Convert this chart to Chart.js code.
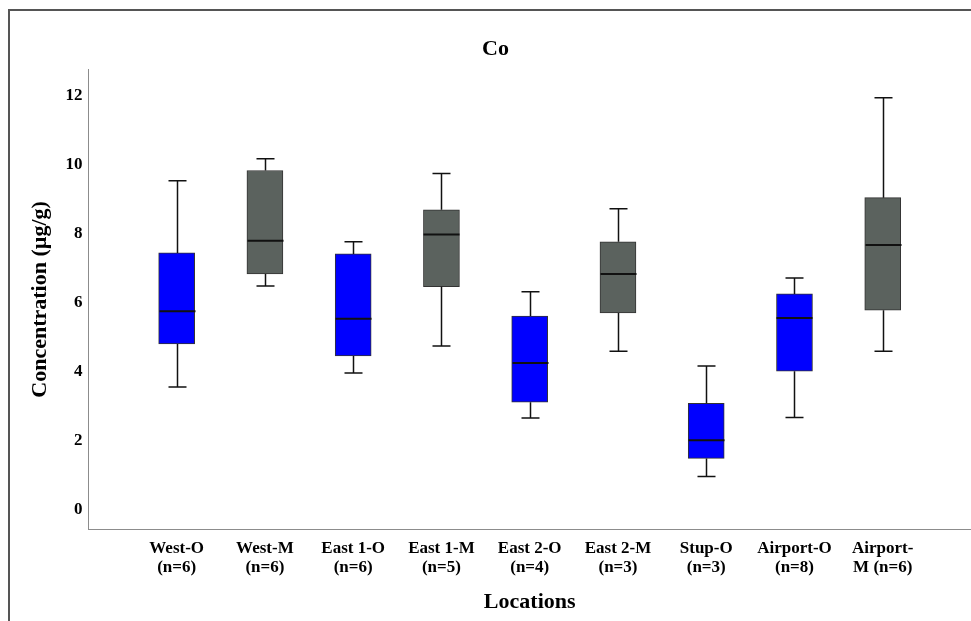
<!DOCTYPE html>
<html>
<head>
<meta charset="utf-8">
<script src="https://cdn.jsdelivr.net/npm/chart.js@4/dist/chart.umd.min.js"></script>
<style>
  html, body { margin: 0; padding: 0; background: #fff; overflow: hidden; }
  #wrap { position: relative; width: 971px; height: 621px; }
  #frame { position: absolute; left: 8px; top: 9px; right: -10px; bottom: -10px; border: 2px solid #555; pointer-events: none; }
</style>
</head>
<body>
<div id="wrap">
  <canvas id="boxChart" width="971" height="621"></canvas>
  <div id="frame"></div>
</div>
<script>
// box plot data
const locations = [['West-O', '(n=6)'], ['West-M', '(n=6)'], ['East 1-O', '(n=6)'], ['East 1-M', '(n=5)'],
  ['East 2-O', '(n=4)'], ['East 2-M', '(n=3)'], ['Stup-O', '(n=3)'], ['Airport-O', '(n=8)'], ['Airport-', 'M (n=6)']];
const groupType   = ['O', 'M', 'O', 'M', 'O', 'M', 'O', 'O', 'M'];
const whiskerLow  = [3.49, 6.42, 3.90, 4.68, 2.59, 4.53, 0.90, 2.61, 4.53];
const quart1      = [4.74, 6.77, 4.39, 6.40, 3.05, 5.64, 1.42, 3.95, 5.72];
const medians     = [5.69, 7.73, 5.47, 7.91, 4.19, 6.77, 1.95, 5.49, 7.61];
const quart3      = [7.38, 9.77, 7.35, 8.63, 5.55, 7.70, 3.02, 6.19, 8.98];
const whiskerHigh = [9.47, 10.11, 7.70, 9.68, 6.25, 8.66, 4.10, 6.65, 11.88];
const yTicks = [0, 2, 4, 6, 8, 10, 12];

const blueBox = '#0000ff';
const greyBox = '#5b625e';
const boxColors = groupType.map(g => g === 'M' ? greyBox : blueBox);

const serif = "'Liberation Serif', 'Times New Roman', serif";

//whiskers, caps and medians drawn on top of the floating bars
const whiskerPlugin = {
  id: 'whiskers',
  afterDatasetsDraw(chart) {
    const ctx = chart.ctx;
    const xs = chart.scales.x, ys = chart.scales.y;
    const half = 18, cap = 9;
    ctx.save();
    ctx.strokeStyle = '#111';
    medians.forEach((m, i) => {
      const x = Math.round(xs.getPixelForValue(i + 1)) + 0.5;
      ctx.lineWidth = 1.5;
      ctx.beginPath();
      ctx.moveTo(x, ys.getPixelForValue(quart3[i]));
      ctx.lineTo(x, ys.getPixelForValue(whiskerHigh[i]));
      ctx.moveTo(x, ys.getPixelForValue(quart1[i]));
      ctx.lineTo(x, ys.getPixelForValue(whiskerLow[i]));
      ctx.stroke();
      ctx.beginPath();
      ctx.moveTo(x - cap, ys.getPixelForValue(whiskerHigh[i]));
      ctx.lineTo(x + cap, ys.getPixelForValue(whiskerHigh[i]));
      ctx.moveTo(x - cap, ys.getPixelForValue(whiskerLow[i]));
      ctx.lineTo(x + cap, ys.getPixelForValue(whiskerLow[i]));
      ctx.stroke();
      ctx.lineWidth = 2;
      ctx.beginPath();
      ctx.moveTo(x - half, ys.getPixelForValue(m));
      ctx.lineTo(x + half, ys.getPixelForValue(m));
      ctx.stroke();
    });
    ctx.restore();
  }
};

const ctx = document.getElementById('boxChart');
new Chart(ctx, {
  type: 'bar',
  data: {
    datasets: [{
      data: quart1.map((q, i) => ({ x: i + 1, y: [q, quart3[i]] })),
      backgroundColor: boxColors,
      borderColor: '#333',
      borderWidth: 1,
      borderSkipped: false,
      barThickness: 36
    }]
  },
  options: {
    responsive: false,
    animation: false,
    layout: { padding: { left: 20, top: 30, right: 0, bottom: 2 } },
    plugins: {
      legend: { display: false },
      tooltip: { enabled: false },
      title: {
        display: true,
        text: 'Co',
        color: '#000',
        font: { family: serif, size: 22, weight: 'bold' },
        padding: { top: 6, bottom: 7 }
      }
    },
    scales: {
      x: {
        type: 'linear',
        min: 0,
        max: 10,
        offset: false,
        afterBuildTicks: scale => { scale.ticks = locations.map((l, i) => ({ value: i + 1 })); },
        grid: { display: false, drawTicks: false },
        border: { display: true, color: '#8c8c8c', width: 1 },
        ticks: {
          autoSkip: false,
          maxRotation: 0,
          padding: 9,
          color: '#000',
          font: { family: serif, size: 17, weight: 'bold', lineHeight: 1.15 },
          callback: v => locations[v - 1] || ''
        },
        title: {
          display: true,
          text: 'Locations',
          color: '#000',
          font: { family: serif, size: 22, weight: 'bold' },
          padding: { top: 3, bottom: 3 }
        }
      },
      y: {
        min: -0.64,
        max: 12.7,
        afterBuildTicks: scale => { scale.ticks = yTicks.map(v => ({ value: v })); },
        grid: { display: false, drawTicks: false },
        border: { display: true, color: '#8c8c8c', width: 1 },
        ticks: {
          padding: 6,
          labelOffset: 2,
          color: '#000',
          font: { family: serif, size: 17, weight: 'bold' }
        },
        title: {
          display: true,
          text: 'Concentration (µg/g)',
          color: '#000',
          font: { family: serif, size: 22, weight: 'bold' },
          padding: { top: 7, bottom: 6 }
        }
      }
    }
  },
  plugins: [whiskerPlugin]
});
</script>
</body>
</html>
